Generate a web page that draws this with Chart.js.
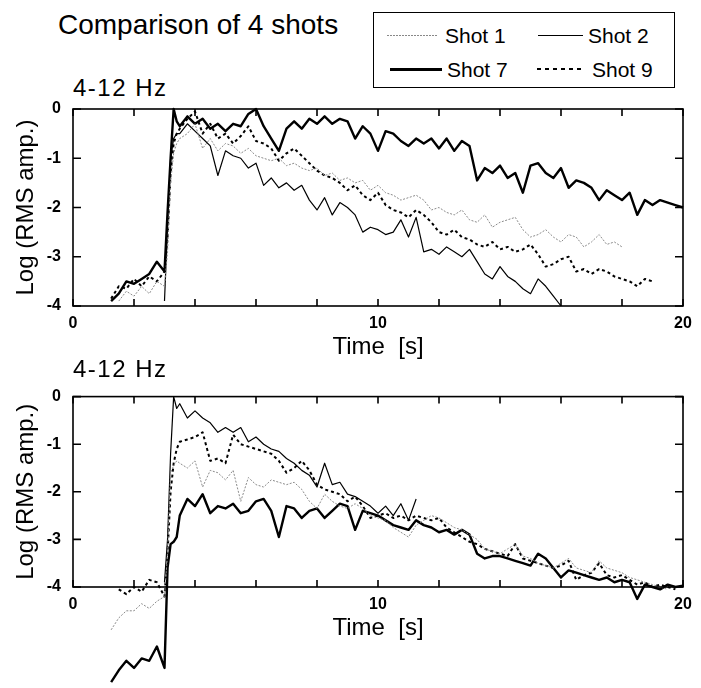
<!DOCTYPE html>
<html>
<head>
<meta charset="utf-8">
<script src="https://cdn.jsdelivr.net/npm/chart.js@4.4.1/dist/chart.umd.min.js"></script>
<style>
  body { margin: 0; background: #fff; }
  #wrap { position: relative; width: 701px; height: 688px; background: #fff; font-family: 'Liberation Sans', Arial, sans-serif; color: #000; }
  .abs { position: absolute; white-space: pre; }
  .title { left: 58px; top: 11px; font-size: 28px; line-height: 28px; }
  .band { left: 73px; font-size: 24px; line-height: 24px; letter-spacing: 1.5px; }
  .legend { left: 373px; top: 12px; width: 302px; height: 76px; border: 1.5px solid #000; box-sizing: border-box; }
  .lt { font-size: 21px; line-height: 21px; }
  .sample { position: absolute; }
  canvas { position: absolute; left: 0; }
</style>
</head>
<body>
<div id="wrap">
  <div class="abs title">Comparison of 4 shots</div>
  <div class="abs legend"></div>
  <div class="sample" style="left:387px;top:35px;width:50px;height:1px;background:repeating-linear-gradient(to right,#888 0 2px,transparent 2px 3px)"></div>
  <div class="abs lt" style="left:445px;top:25px">Shot 1</div>
  <div class="sample" style="left:538px;top:35px;width:45px;height:1.2px;background:#000"></div>
  <div class="abs lt" style="left:588px;top:25px">Shot 2</div>
  <div class="sample" style="left:390px;top:68px;width:52px;height:2.5px;background:#000"></div>
  <div class="abs lt" style="left:447px;top:59px">Shot 7</div>
  <div class="sample" style="left:537px;top:68px;width:48px;height:2px;background:repeating-linear-gradient(to right,#000 0 4px,transparent 4px 8px)"></div>
  <div class="abs lt" style="left:592px;top:59px">Shot 9</div>
  <div class="abs band" style="top:76px">4-12 Hz</div>
  <canvas id="chartTop" width="701" height="370" style="top:0"></canvas>
  <div class="abs band" style="top:357px">4-12 Hz</div>
  <canvas id="chartBottom" width="701" height="313" style="top:375px"></canvas>
</div>
<script>
// shared time axis [s]
const time = [
  1.0, 1.25, 1.5, 1.75, 2.0, 2.25, 2.5, 2.75,
  3.0, 3.1, 3.2, 3.3, 3.4,
  3.5, 3.75,
  4.0, 4.25, 4.5, 4.75,
  5.0, 5.25, 5.5, 5.75,
  6.0, 6.25, 6.5, 6.75,
  7.0, 7.25, 7.5, 7.75,
  8.0, 8.25, 8.5, 8.75,
  9.0, 9.25, 9.5, 9.75,
  10.0, 10.25, 10.5, 10.75,
  11.0, 11.25, 11.5, 11.75,
  12.0, 12.25, 12.5, 12.75,
  13.0, 13.25, 13.5, 13.75,
  14.0, 14.25, 14.5, 14.75,
  15.0, 15.25, 15.5, 15.75,
  16.0, 16.25, 16.5, 16.75,
  17.0, 17.25, 17.5, 17.75,
  18.0, 18.25, 18.5, 18.75,
  19.0, 19.25, 19.5, 19.75,
  20.0
];

const shotNames = ["Shot 1", "Shot 2", "Shot 7", "Shot 9"];
const xTicks = [0, 10, 20];
const yTicks = [0, -1, -2, -3, -4];

// upper panel, log RMS amplitude
const topShot1 = [
  null, null, -3.9, -3.7, -3.8, -3.6, -3.75, -3.5,
  -3.6, -2.9, -1.5, -0.9, -0.7,
  -0.6, -0.5,
  -0.3, -0.8, -0.6, -0.85,
  -0.7, -0.75, -0.9, -0.8,
  -0.95, -1.0, -1.05, -1.0,
  -1.15, -1.1, -1.2, -1.25,
  -1.2, -1.35, -1.3, -1.45,
  -1.4, -1.5, -1.45, -1.65,
  -1.55, -1.7, -1.75, -1.85,
  -1.8, -1.75, -1.85, -2.05,
  -2.0, -2.1, -2.15, -2.05,
  -2.25, -2.3, -2.15, -2.4,
  -2.3, -2.25, -2.2, -2.45,
  -2.6, -2.55, -2.45, -2.6,
  -2.7, -2.55, -2.6, -2.8,
  -2.7, -2.55, -2.75, -2.7,
  -2.8, null, null, null,
  null, null, null, null,
  null
];
const topShot2 = [
  null, null, null, null, null, null, null, null,
  -3.9, -2.4, -1.0, -0.6, -0.5,
  -0.5, -0.3,
  -0.45, -0.6, -0.75, -1.35,
  -0.85, -0.95, -1.0, -1.2,
  -1.1, -1.55, -1.4, -1.6,
  -1.5, -1.65, -1.55, -1.85,
  -2.05, -1.8, -2.15, -1.9,
  -2.0, -2.15, -2.5, -2.4,
  -2.45, -2.55, -2.5, -2.25,
  -2.6, -2.2, -2.9, -2.85,
  -2.95, -2.8, -2.9, -3.0,
  -2.85, -3.1, -3.35, -3.45,
  -3.2, -3.4, -3.5, -3.65,
  -3.75, -3.45, -3.6, -3.8,
  -4.0, null, null, null,
  null, null, null, null,
  null, null, null, null,
  null, null, null, null,
  null
];
const topShot7 = [
  null, -3.9, -3.75, -3.5, -3.55, -3.45, -3.35, -3.1,
  -3.3, -2.1, -1.0, 0.0, -0.25,
  -0.35, -0.15,
  -0.3, -0.2, -0.4, -0.3,
  -0.45, -0.3, -0.35, -0.1,
  0.0, -0.35, -0.6, -0.85,
  -0.4, -0.25, -0.4, -0.2,
  -0.3, -0.15, -0.3, -0.2,
  -0.25, -0.6, -0.35, -0.5,
  -0.85, -0.45, -0.5, -0.65,
  -0.75, -0.6, -0.7, -0.6,
  -0.8, -0.6, -0.85, -0.65,
  -0.75, -1.45, -1.2, -1.3,
  -1.15, -1.4, -1.3, -1.7,
  -1.15, -1.1, -1.3, -1.4,
  -1.2, -1.6, -1.45, -1.5,
  -1.6, -1.85, -1.65, -1.75,
  -1.85, -1.7, -2.15, -1.85,
  -1.95, -1.85, -1.9, -1.95,
  -2.0
];
const topShot9 = [
  null, -3.85, -3.6, -3.65, -3.45, -3.6, -3.4, -3.5,
  -3.3, -2.6, -1.3, -0.7, -0.5,
  -0.4, -0.2,
  -0.05, -0.5, -0.3, -0.6,
  -0.5, -0.7, -0.55, -0.35,
  -0.65, -0.7, -0.8, -1.05,
  -0.9, -0.8, -0.95, -1.1,
  -1.25, -1.35, -1.4, -1.5,
  -1.65, -1.55, -1.75, -1.85,
  -1.7, -1.95, -2.05, -2.1,
  -2.2, -2.05, -2.15, -2.3,
  -2.5, -2.55, -2.45, -2.6,
  -2.65, -2.75, -2.8, -2.7,
  -2.85, -2.8, -2.9, -2.85,
  -2.75, -2.95, -3.2, -3.15,
  -3.05, -3.0, -3.3, -3.25,
  -3.35, -3.25, -3.3, -3.4,
  -3.45, -3.5, -3.6, -3.45,
  -3.5, null, null, null,
  null
];

// lower panel
const bottomShot1 = [
  null, -4.9, -4.65, -4.5, -4.5, -4.35, -4.45, -4.3,
  -4.2, -3.3, -1.6, -1.45, -1.35,
  -1.4, -1.5,
  -1.35, -1.9, -1.55, -1.6,
  -1.75, -1.55, -2.2, -1.7,
  -1.85, -1.9, -1.75, -1.8,
  -1.85, -1.8, -1.95, -2.2,
  -2.35, -2.05, -2.2, -2.3,
  -2.35, -2.25, -2.35, -2.5,
  -2.55, -2.6, -2.75, -2.85,
  -2.95, -2.7, -2.6, -2.5,
  -2.55, -2.65, -2.75, -2.8,
  -2.9, -3.0, -3.2, -3.25,
  -3.3, -3.2, -3.1, -3.35,
  -3.4, -3.5, -3.55, -3.6,
  -3.5, -3.4, -3.6, -3.65,
  -3.7, -3.45, -3.6, -3.65,
  -3.7, -3.8, -3.85, -3.9,
  -3.95, -4.0, -4.05, null,
  null
];
const bottomShot2 = [
  null, null, null, null, null, null, null, null,
  -3.9, -3.0, -1.2, 0.0, -0.25,
  -0.15, -0.45,
  -0.3, -0.45, -0.55, -0.75,
  -0.65, -0.75, -0.65, -0.95,
  -0.85, -1.0, -1.1, -1.15,
  -1.3, -1.4, -1.55, -1.65,
  -1.9, -1.4, -1.85, -1.8,
  -2.05, -2.1, -2.2, -2.3,
  -2.45, -2.3, -2.5, -2.25,
  -2.6, -2.15, null, null,
  null, null, null, null,
  null, null, null, null,
  null, null, null, null,
  null, null, null, null,
  null, null, null, null,
  null, null, null, null,
  null, null, null, null,
  null, null, null, null,
  null
];
const bottomShot7 = [
  null, -6.0, -5.75, -5.55, -5.7, -5.5, -5.55, -5.25,
  -5.7, -3.6, -3.1, -3.05, -2.95,
  -2.5, -2.15,
  -2.3, -2.05, -2.45, -2.3,
  -2.35, -2.25, -2.45, -2.4,
  -2.2, -2.15, -2.4, -2.95,
  -2.3, -2.35, -2.55, -2.4,
  -2.35, -2.55, -2.4, -2.25,
  -2.3, -2.8, -2.4, -2.45,
  -2.5, -2.6, -2.7, -2.75,
  -2.8, -2.6, -2.7, -2.75,
  -2.85, -2.8, -2.9, -2.8,
  -2.9, -3.3, -3.4, -3.35,
  -3.35, -3.4, -3.45, -3.5,
  -3.55, -3.3, -3.4, -3.6,
  -3.8, -3.65, -3.7, -3.75,
  -3.8, -3.85, -3.8, -3.9,
  -3.85, -3.9, -4.25, -3.95,
  -4.0, -4.05, -3.95, -4.0,
  -3.97
];
const bottomShot9 = [
  null, null, -4.05, -4.15, -4.0, -4.1, -3.85, -3.9,
  -4.2, -3.3, -2.0, -1.4, -1.1,
  -0.95, -0.9,
  -0.85, -0.75, -1.35, -1.3,
  -1.4, -0.8, -1.0, -1.05,
  -1.1, -1.15, -1.2, -1.35,
  -1.6, -1.5, -1.35, -1.55,
  -1.85, -1.95, -2.0, -2.05,
  -2.2, -2.1, -2.3, -2.55,
  -2.5, -2.45, -2.55, -2.5,
  -2.6, -2.5, -2.55, -2.6,
  -2.55, -2.75, -2.85, -2.95,
  -3.05, -3.1, -3.2, -3.25,
  -3.3, -3.35, -3.1, -3.4,
  -3.45, -3.5, -3.55, -3.6,
  -3.55, -3.45, -3.85, -3.75,
  -3.7, -3.5, -3.75, -3.8,
  -3.75, -3.85, -3.95, -3.9,
  -4.0, -3.95, -4.0, -4.05,
  null
];

const FONT = "'Liberation Sans', Arial, sans-serif";
Chart.defaults.font.family = FONT;
Chart.defaults.color = "#000";

// line look per shot: gray fine dots, thin solid, thick solid, thick dashes
const styles = [
  { borderColor: "#8a8a8a", borderWidth: 1, borderDash: [2, 1.5] },
  { borderColor: "#000", borderWidth: 1.2, borderDash: [] },
  { borderColor: "#000", borderWidth: 2.4, borderDash: [] },
  { borderColor: "#000", borderWidth: 2, borderDash: [3, 3] },
];

// box around plot + inward tick marks on all four sides
const frameTicks = {
  id: "frameTicks",
  afterDatasetsDraw(chart) {
    const { ctx, chartArea: a, scales } = chart;
    ctx.save();
    ctx.strokeStyle = "#000";
    ctx.lineWidth = 1.6;
    ctx.strokeRect(a.left, a.top, a.right - a.left, a.bottom - a.top);
    ctx.beginPath();
    scales.x.ticks.forEach((t) => {
      const px = scales.x.getPixelForValue(t.value);
      ctx.moveTo(px, a.bottom); ctx.lineTo(px, a.bottom - 7);
      ctx.moveTo(px, a.top); ctx.lineTo(px, a.top + 7);
    });
    scales.y.ticks.forEach((t) => {
      const py = scales.y.getPixelForValue(t.value);
      ctx.moveTo(a.left, py); ctx.lineTo(a.left + 8, py);
      ctx.moveTo(a.right, py); ctx.lineTo(a.right - 8, py);
    });
    ctx.stroke();
    ctx.restore();
  },
};

function makeChart(id, shots, pad) {
  const datasets = shots.map((vals, i) => ({
    label: shotNames[i],
    data: time.map((t, k) => ({ x: t, y: vals[k] })).filter((p) => p.y !== null),
    pointRadius: 0,
    tension: 0,
    fill: false,
    clip: false,
    borderJoinStyle: "round",
    ...styles[i],
  }));
  return new Chart(document.getElementById(id), {
    type: "line",
    data: { datasets },
    plugins: [frameTicks],
    options: {
      responsive: false,
      animation: false,
      layout: { padding: pad },
      plugins: { legend: { display: false }, tooltip: { enabled: false } },
      scales: {
        x: {
          type: "linear",
          min: 0,
          max: 20,
          grid: { display: false, drawTicks: false },
          border: { display: false },
          ticks: {
            stepSize: 2,
            autoSkip: false,
            maxRotation: 0,
            padding: 8,
            font: { size: 16, weight: "bold" },
            callback: (v) => (xTicks.includes(v) ? String(v) : ""),
          },
          title: { display: true, text: "Time  [s]", font: { size: 24 }, padding: { top: 0, bottom: 8 } },
          afterFit: (s) => { s.height = 64; },
        },
        y: {
          min: -4,
          max: 0,
          grid: { display: false, drawTicks: false },
          border: { display: false },
          ticks: {
            stepSize: 1,
            padding: 12,
            font: { size: 16, weight: "bold" },
            callback: (v) => (yTicks.includes(v) ? String(v) : ""),
          },
          title: { display: true, text: "Log (RMS amp.)", font: { size: 24 }, padding: { top: 12, bottom: 0 } },
          afterFit: (s) => { s.width = 73; },
        },
      },
    },
  });
}

makeChart("chartTop", [topShot1, topShot2, topShot7, topShot9], { top: 109, right: 18, bottom: 0, left: 0 });
makeChart("chartBottom", [bottomShot1, bottomShot2, bottomShot7, bottomShot9], { top: 14, right: 18, bottom: 37, left: 0 });
</script>
</body>
</html>
